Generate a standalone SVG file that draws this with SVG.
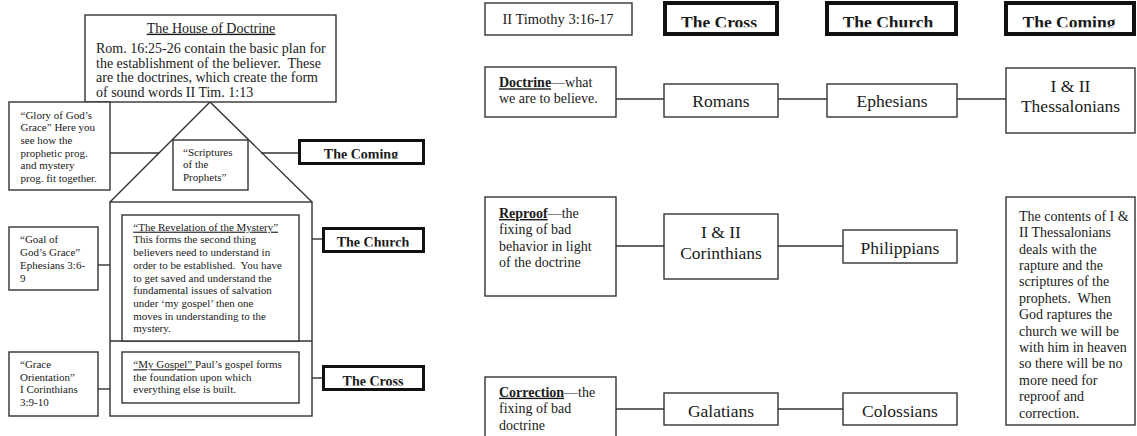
<svg xmlns="http://www.w3.org/2000/svg" width="1137" height="436" viewBox="0 0 1137 436">
<style>
  .box { fill: #fff; stroke: #333; stroke-width: 1.4; }
  .thick4 { fill: #fff; stroke: #111; stroke-width: 4; }
  .thick3 { fill: #fff; stroke: #111; stroke-width: 3; }
  .ln { stroke: #333; stroke-width: 1.4; fill: none; }
  text { font-family: "Liberation Serif", "Times New Roman", serif; fill: #1a1a1a; }
  .t11 { font-size: 11px; }
  .t14 { font-size: 14px; }
  .t17 { font-size: 17.5px; }
  .b14 { font-size: 14px; font-weight: bold; }
  .b17 { font-size: 17.5px; font-weight: bold; }
  .mid { text-anchor: middle; }
  .u { text-decoration: underline; }
</style>
<defs>
  <clipPath id="clipTop"><rect x="0" y="0" width="1137" height="27.3"/></clipPath>
  <clipPath id="clipLComing"><rect x="290" y="130" width="140" height="28.6"/></clipPath>
  <clipPath id="clipLChurch"><rect x="315" y="220" width="115" height="26.4"/></clipPath>
  <clipPath id="clipLCross"><rect x="315" y="360" width="115" height="25.4"/></clipPath>
</defs>

<g id="connectors">
  <line class="ln" x1="110" y1="153" x2="159" y2="153"/>
  <line class="ln" x1="261" y1="153" x2="298" y2="153"/>
  <line class="ln" x1="98" y1="265" x2="110" y2="265"/>
  <line class="ln" x1="312" y1="239" x2="322" y2="239"/>
  <line class="ln" x1="98" y1="389" x2="110" y2="389"/>
  <line class="ln" x1="312" y1="378" x2="322" y2="378"/>
  <line class="ln" x1="616" y1="99" x2="664" y2="99"/>
  <line class="ln" x1="778" y1="99" x2="827" y2="99"/>
  <line class="ln" x1="957" y1="99" x2="1006" y2="99"/>
  <line class="ln" x1="616" y1="246" x2="664" y2="246"/>
  <line class="ln" x1="778" y1="246" x2="843" y2="246"/>
  <line class="ln" x1="616" y1="409" x2="664" y2="409"/>
  <line class="ln" x1="778" y1="409" x2="843" y2="409"/>
</g>

<g id="house">
  <polyline class="ln" points="110,202 210,102 312,202"/>
  <rect class="box" x="110" y="202" width="202" height="214"/>
  <line class="ln" x1="110" y1="341" x2="312" y2="341"/>
</g>

<g id="house-of-doctrine">
  <rect class="box" x="85" y="15" width="251" height="87"/>
  <text class="t14 mid u" x="211" y="32.7">The House of Doctrine</text>
  <text class="t14" x="96" y="53.3">Rom. 16:25-26 contain the basic plan for</text>
  <text class="t14" x="96" y="67.8">the establishment of the believer.&#160; These</text>
  <text class="t14" x="96" y="82.3">are the doctrines, which create the form</text>
  <text class="t14" x="96" y="96.8">of sound words II Tim. 1:13</text>
</g>

<g id="glory">
  <rect class="box" x="9" y="102" width="101" height="88"/>
  <text class="t11" x="20.5" y="118.6">“Glory of God’s</text>
  <text class="t11" x="20.5" y="131.3">Grace” Here you</text>
  <text class="t11" x="20.5" y="144">see how the</text>
  <text class="t11" x="20.5" y="156.7">prophetic prog.</text>
  <text class="t11" x="20.5" y="169.4">and mystery</text>
  <text class="t11" x="20.5" y="182.1">prog. fit together.</text>
</g>

<g id="scriptures">
  <rect class="box" x="173" y="140" width="75" height="50"/>
  <text class="t11" x="183" y="155.5">“Scriptures</text>
  <text class="t11" x="183" y="168">of the</text>
  <text class="t11" x="183" y="180.5">Prophets”</text>
</g>

<g id="left-coming">
  <rect class="thick3" x="299.5" y="140.5" width="124" height="23"/>
  <text class="b14 mid" x="361" y="159" clip-path="url(#clipLComing)">The Coming</text>
</g>

<g id="goal">
  <rect class="box" x="9" y="227" width="89" height="63"/>
  <text class="t11" x="20" y="242.7">“Goal of</text>
  <text class="t11" x="20" y="255.7">God’s Grace”</text>
  <text class="t11" x="20" y="268.5">Ephesians 3:6-</text>
  <text class="t11" x="20" y="281.5">9</text>
</g>

<g id="revelation">
  <rect class="box" x="122" y="215" width="177" height="126"/>
  <text class="t11 u" x="133.3" y="230.7">“The Revelation of the Mystery”</text>
  <text class="t11" x="133.3" y="243.4">This forms the second thing</text>
  <text class="t11" x="133.3" y="256.1">believers need to understand in</text>
  <text class="t11" x="133.3" y="268.8">order to be established.&#160; You have</text>
  <text class="t11" x="133.3" y="281.5">to get saved and understand the</text>
  <text class="t11" x="133.3" y="294.2">fundamental issues of salvation</text>
  <text class="t11" x="133.3" y="306.9">under ‘my gospel’ then one</text>
  <text class="t11" x="133.3" y="319.6">moves in understanding to the</text>
  <text class="t11" x="133.3" y="332.3">mystery.</text>
</g>

<g id="left-church">
  <rect class="thick3" x="323.5" y="228.5" width="100" height="23"/>
  <text class="b14 mid" x="373" y="246.6" clip-path="url(#clipLChurch)">The Church</text>
</g>

<g id="grace-orientation">
  <rect class="box" x="9" y="352" width="89" height="64"/>
  <text class="t11" x="20" y="368.3">“Grace</text>
  <text class="t11" x="20" y="380.8">Orientation”</text>
  <text class="t11" x="20" y="393.3">I Corinthians</text>
  <text class="t11" x="20" y="406.2">3:9-10</text>
</g>

<g id="my-gospel">
  <rect class="box" x="122" y="352" width="177" height="51"/>
  <text class="t11" x="133.3" y="368.3"><tspan class="u">“My Gospel” </tspan>Paul’s gospel forms</text>
  <text class="t11" x="133.3" y="380.6">the foundation upon which</text>
  <text class="t11" x="133.3" y="392.9">everything else is built.</text>
</g>

<g id="left-cross">
  <rect class="thick3" x="323.5" y="366.5" width="100" height="23"/>
  <text class="b14 mid" x="373" y="385.6" clip-path="url(#clipLCross)">The Cross</text>
</g>

<g id="timothy">
  <rect class="box" x="485" y="3" width="147" height="32"/>
  <text class="t14 mid" x="558" y="23.5" style="font-size:14.5px">II Timothy 3:16-17</text>
</g>

<g id="top-cross">
  <rect class="thick4" x="665" y="3" width="112" height="31"/>
  <text class="b17 mid" x="719" y="28" clip-path="url(#clipTop)">The Cross</text>
</g>

<g id="top-church">
  <rect class="thick4" x="827" y="3" width="129" height="31"/>
  <text class="b17 mid" x="888" y="28" clip-path="url(#clipTop)">The Church</text>
</g>

<g id="top-coming">
  <rect class="thick4" x="1006" y="3" width="128" height="31"/>
  <text class="b17 mid" x="1069" y="28" clip-path="url(#clipTop)">The Coming</text>
</g>

<g id="doctrine">
  <rect class="box" x="485" y="67" width="131" height="50"/>
  <text class="t14" x="499" y="87.3"><tspan class="u" font-weight="bold">Doctrine</tspan>—what</text>
  <text class="t14" x="499" y="103.3">we are to believe.</text>
</g>

<g id="romans">
  <rect class="box" x="664" y="84" width="114" height="33"/>
  <text class="t17 mid" x="721" y="107">Romans</text>
</g>

<g id="ephesians">
  <rect class="box" x="827" y="84" width="130" height="33"/>
  <text class="t17 mid" x="892" y="107">Ephesians</text>
</g>

<g id="thessalonians">
  <rect class="box" x="1006" y="68" width="129" height="65"/>
  <text class="t17 mid" x="1070.5" y="91.7">I &amp; II</text>
  <text class="t17 mid" x="1070.5" y="112.3">Thessalonians</text>
</g>

<g id="reproof">
  <rect class="box" x="485" y="197" width="131" height="99"/>
  <text class="t14" x="499" y="218"><tspan class="u" font-weight="bold">Reproof</tspan>—the</text>
  <text class="t14" x="499" y="234.4">fixing of bad</text>
  <text class="t14" x="499" y="250.8">behavior in light</text>
  <text class="t14" x="499" y="267.2">of the doctrine</text>
</g>

<g id="corinthians">
  <rect class="box" x="664" y="214" width="114" height="65"/>
  <text class="t17 mid" x="721" y="238.3">I &amp; II</text>
  <text class="t17 mid" x="721" y="258.5">Corinthians</text>
</g>

<g id="philippians">
  <rect class="box" x="843" y="230" width="114" height="33"/>
  <text class="t17 mid" x="900" y="254">Philippians</text>
</g>

<g id="contents">
  <rect class="box" x="1006" y="197" width="129" height="228"/>
  <text class="t14" x="1019" y="220.7">The contents of I &amp;</text>
  <text class="t14" x="1019" y="237.1">II Thessalonians</text>
  <text class="t14" x="1019" y="253.5">deals with the</text>
  <text class="t14" x="1019" y="269.9">rapture and the</text>
  <text class="t14" x="1019" y="286.3">scriptures of the</text>
  <text class="t14" x="1019" y="302.7">prophets.&#160; When</text>
  <text class="t14" x="1019" y="319.1">God raptures the</text>
  <text class="t14" x="1019" y="335.5">church we will be</text>
  <text class="t14" x="1019" y="351.9">with him in heaven</text>
  <text class="t14" x="1019" y="368.3">so there will be no</text>
  <text class="t14" x="1019" y="384.7">more need for</text>
  <text class="t14" x="1019" y="401.1">reproof and</text>
  <text class="t14" x="1019" y="417.5">correction.</text>
</g>

<g id="correction">
  <rect class="box" x="485" y="377" width="131" height="70"/>
  <text class="t14" x="499" y="396.7"><tspan class="u" font-weight="bold">Correction</tspan>—the</text>
  <text class="t14" x="499" y="413.1">fixing of bad</text>
  <text class="t14" x="499" y="429.5">doctrine</text>
</g>

<g id="galatians">
  <rect class="box" x="664" y="393" width="114" height="32"/>
  <text class="t17 mid" x="721" y="416.5">Galatians</text>
</g>

<g id="colossians">
  <rect class="box" x="843" y="393" width="114" height="32"/>
  <text class="t17 mid" x="900" y="416.5">Colossians</text>
</g>
</svg>
